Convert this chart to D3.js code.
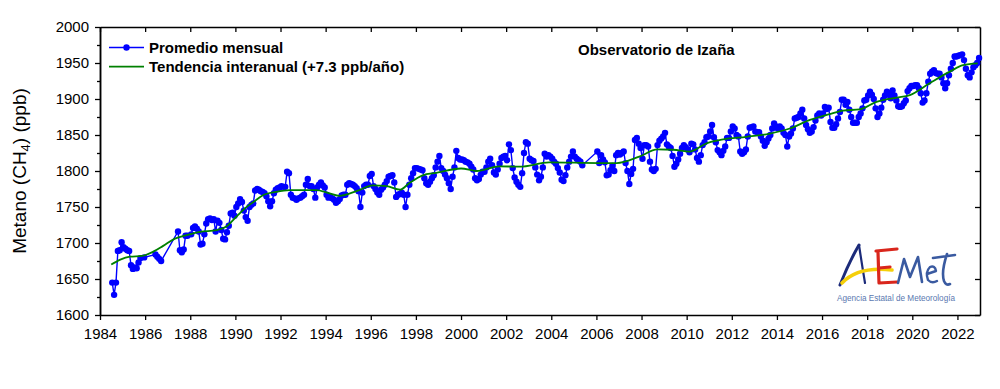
<!DOCTYPE html>
<html>
<head>
<meta charset="utf-8">
<script src="https://cdn.jsdelivr.net/npm/d3@7"></script>
<style>
    body { margin: 0; background: #fff; }
    #chart text { font-family: "Liberation Sans", Arial, sans-serif; }
</style>
</head>
<body>
<div id="chart"></div>
<script>
// monthly means (ppb), Jan..Dec, one row per year, null = no data
var startYear = 1984;
var ch4_1984_1989 = [
    null,null,null,null,null,null,1645,1628,1645,1689,1690,1701,
    1694,1692,1690,1689,1669,1664,1666,1665,1673,1679,null,1680,
    null,null,null,null,null,1684,1681,1678,1675,null,null,null,
    null,null,null,null,null,1716,1690,1687,1691,1710,1710,null,
    1712,1721,1723,1720,1716,1698,1699,1712,1727,1733,1734,1732,
    1733,1716,1731,1728,1718,1706,1705,1715,1724,1741,1742,1738
];
var ch4_1990_1999 = [
    1750,1755,1761,1757,1745,1736,1731,1750,1753,1755,1773,1775,
    1774,1772,1771,1769,1765,1758,1751,1758,1769,1774,1776,1777,
    1779,1778,1778,1799,1797,1767,1763,1762,1760,1762,1763,1765,
    1767,1781,1789,1779,1779,1775,1763,1777,1781,1784,1780,1777,
    1767,1763,1764,1762,1760,1756,1758,1761,1766,1767,1767,1781,
    1783,1782,1781,1779,1776,1772,1750,1770,1779,1781,1781,1793,
    1796,1779,1775,1770,1767,1774,1777,1781,1786,1792,1793,1794,
    1784,1764,1767,1768,1770,1767,1750,1767,1781,1790,1797,1804,
    1804,1803,1802,1801,1790,1783,1781,1785,1790,1794,1805,1813,
    1821,1804,1800,1795,1790,1783,1775,1792,1805,1828,1818,1816
];
var ch4_2000_2009 = [
    1816,1815,1813,1812,1810,1806,1802,1790,1787,1789,1795,1799,
    1799,1805,1813,1817,1808,1798,1795,1802,1810,1818,1820,1821,
    1815,1837,1829,1804,1791,1785,1781,1778,1797,1825,1840,1838,
    1817,1815,1814,1805,1795,1787,1792,1805,1824,1820,1822,1820,
    1817,1813,1810,1804,1798,1788,1786,1794,1805,1813,1820,1827,
    1820,1817,1815,1813,1808,null,null,null,null,null,null,null,
    1827,1811,1822,1816,1812,1794,1795,1801,1807,1800,1822,1825,
    1823,1825,1827,1811,1800,1782,1796,1803,1843,1846,1838,1832,
    1817,1836,1836,1834,1813,1802,1800,1803,1836,1842,1845,1848,
    1853,1837,1834,1832,1821,1806,1810,1816,1824,1832,1836,1833
];
var ch4_2010_2019 = [
    1830,1826,1838,1837,1830,1818,1813,1822,1836,1840,1847,1848,
    1855,1864,1847,1840,1829,1826,1822,1828,1834,1846,1846,1855,
    1862,1859,1850,1848,1827,1824,1826,1830,1848,1860,1861,1862,
    1855,1854,1854,1848,1842,1835,1840,1845,1850,1859,1866,1862,
    1859,1862,1859,1853,1850,1834,1848,1852,1859,1873,1874,1875,
    1880,1885,1873,1864,1858,1853,1855,1861,1870,1877,1880,1877,
    1880,1889,1886,1888,1868,1860,1860,1865,1873,1882,1899,1899,
    1892,1896,1885,1875,1867,1867,1867,1875,1880,1887,1898,1899,
    1905,1910,1906,1900,1887,1875,1880,1888,1899,1905,1910,1908,
    1901,1912,1905,1898,1890,1889,1890,1894,1898,1911,1915,1918
];
var ch4_2020_2022 = [
    1918,1919,1919,1915,1908,1895,1898,1908,1924,1935,1938,1940,
    1936,1935,1935,1930,1922,1915,1922,1933,1942,1950,1959,1959,
    1960,1961,1962,1954,1942,1933,1930,1937,1944,1947,1950,1957
];

// interannual trend (decimal year, ppb)
var trendYears = [1984.5,1984.9,1985.33,1985.85,1986.36,1986.8,1987.32,1987.84,1988.43,1989.17,
    1989.6,1990.06,1990.42,1990.8,1991.2,1991.8,1992.4,1993.6,1994.06,1994.6,1995.4,1996.1,
    1996.7,1997.3,1997.7,1998.3,1998.9,2000.0,2000.7,2001.7,2002.6,2003.9,2006.15,2006.9,
    2007.9,2008.7,2009.4,2010.14,2010.88,2011.62,2012.65,2013.69,2014.57,2015.46,2016.34,
    2016.93,2017.67,2018.41,2019.3,2019.89,2020.77,2021.66,2022.25,2022.9];
var trendValues = [1670,1677,1681,1682,1688,1696,1706,1711,1715.5,1718,
    1723,1737,1748,1757,1766,1771,1773.5,1773.5,1770,1765.5,1772.5,1780,
    1779,1774,1783,1794,1797.5,1803.5,1800,1806.5,1806,1812,1811,1811,
    1820,1830,1829.5,1827,1838.5,1844,1847.5,1852,1859,1871,1879,
    1884,1885.5,1896,1902,1905.5,1922,1938,1947,1949.5];

var yTicks = [1600,1650,1700,1750,1800,1850,1900,1950,2000];
var xTicks = d3.range(1984, 2023, 2);

var W = 1000, H = 389,
    mLeft = 100, mRight = 980, mTop = 27, mBottom = 315;

var svg = d3.select("#chart")
    .append("svg")
    .attr("width", W)
    .attr("height", H);

var x = d3.scaleLinear().domain([1984, 2023]).range([mLeft, mRight]);
var y = d3.scaleLinear().domain([1600, 2000]).range([mBottom, mTop]);

var monthly = [];
[ch4_1984_1989, ch4_1990_1999, ch4_2000_2009, ch4_2010_2019, ch4_2020_2022].forEach(function(block) {
    var base = startYear + monthly.length / 12;
    block.forEach(function(v, i) {
        monthly.push({t: base + (i + 0.5) / 12, v: v});
    });
});
var points = monthly.filter(function(d) { return d.v !== null; });
var trend = trendYears.map(function(t, i) { return {t: t, v: trendValues[i]}; });

// axes
function styleAxis(g) {
    g.selectAll(".domain").attr("stroke", "#000").attr("stroke-width", 1.5);
    g.selectAll(".tick line").attr("stroke", "#000").attr("stroke-width", 1.3);
    g.selectAll(".tick text").attr("fill", "#000").style("font-size", "15px");
}

svg.append("g")
    .attr("transform", "translate(0," + mBottom + ")")
    .call(d3.axisBottom(x).tickValues(xTicks).tickFormat(d3.format("d")).tickSizeInner(5).tickSizeOuter(0).tickPadding(8))
    .call(styleAxis);

svg.append("g")
    .attr("transform", "translate(0," + mTop + ")")
    .call(d3.axisTop(x).tickValues(xTicks).tickFormat("").tickSizeInner(-5).tickSizeOuter(0))
    .call(styleAxis);

svg.append("g")
    .attr("transform", "translate(" + mLeft + ",0)")
    .call(d3.axisLeft(y).tickValues(yTicks).tickFormat(d3.format("d")).tickSizeInner(5).tickSizeOuter(0).tickPadding(6))
    .call(styleAxis);

svg.append("g")
    .attr("transform", "translate(" + mLeft + ",0)")
    .call(d3.axisLeft(y).tickValues(d3.range(1625, 2000, 50)).tickFormat("").tickSizeInner(3).tickSizeOuter(0))
    .call(styleAxis);

svg.append("g")
    .attr("transform", "translate(" + mRight + ",0)")
    .call(d3.axisRight(y).tickValues(yTicks).tickFormat("").tickSizeInner(-5).tickSizeOuter(0))
    .call(styleAxis);

// y title
var yt = svg.append("text")
    .attr("transform", "translate(26,171) rotate(-90)")
    .attr("text-anchor", "middle")
    .style("font-size", "19px")
    .attr("fill", "#000");
yt.append("tspan").text("Metano (CH");
yt.append("tspan").text("4").style("font-size", "13px").attr("dy", 4);
yt.append("tspan").text(") (ppb)").attr("dy", -4);

// monthly series
var line = d3.line()
    .x(function(d) { return x(d.t); })
    .y(function(d) { return y(d.v); });

svg.append("path")
    .datum(points)
    .attr("d", line)
    .attr("fill", "none")
    .attr("stroke", "#0000ff")
    .attr("stroke-width", 1.4);

svg.selectAll(".dot")
    .data(points)
    .enter()
    .append("circle")
    .attr("class", "dot")
    .attr("cx", function(d) { return x(d.t); })
    .attr("cy", function(d) { return y(d.v); })
    .attr("r", 3.2)
    .attr("fill", "#0000ff");

// trend
svg.append("path")
    .datum(trend)
    .attr("d", line.curve(d3.curveMonotoneX))
    .attr("fill", "none")
    .attr("stroke", "#008000")
    .attr("stroke-width", 1.8);

// legend
svg.append("line").attr("x1", 109).attr("x2", 144).attr("y1", 47.5).attr("y2", 47.5)
    .attr("stroke", "#0000ff").attr("stroke-width", 1.4);
svg.append("circle").attr("cx", 126.5).attr("cy", 47.5).attr("r", 3.2).attr("fill", "#0000ff");
svg.append("line").attr("x1", 109).attr("x2", 144).attr("y1", 66.7).attr("y2", 66.7)
    .attr("stroke", "#008000").attr("stroke-width", 1.8);

svg.append("text").attr("x", 149).attr("y", 52.5)
    .style("font-size", "15px").style("font-weight", "bold")
    .text("Promedio mensual");
svg.append("text").attr("x", 149).attr("y", 72)
    .style("font-size", "15px").style("font-weight", "bold")
    .text("Tendencia interanual (+7.3 ppb/año)");

svg.append("text").attr("x", 578).attr("y", 54.5)
    .style("font-size", "15px").style("font-weight", "bold")
    .text("Observatorio de Izaña");

// AEMET logo (rough drawing)
var logo = svg.append("g").attr("fill", "none").attr("stroke-linecap", "round").attr("stroke-linejoin", "round");
logo.append("path").attr("d", "M840,285 Q849,262 859,245").attr("stroke", "#1c2b7a").attr("stroke-width", 3);
logo.append("path").attr("d", "M859,245 Q862,265 865,283").attr("stroke", "#1c2b7a").attr("stroke-width", 2.2);
logo.append("path").attr("d", "M842,283 Q858,266 892,270").attr("stroke", "#f5cf0a").attr("stroke-width", 3.6);
logo.append("path").attr("d", "M878,252 L879,283 M876,251 L897,249 M879,268 L890,267 M879,283 L897,282")
    .attr("stroke", "#d9261c").attr("stroke-width", 3.2);
logo.append("path").attr("d", "M898,283 L904,259 L910,277 L918,257 L922,282")
    .attr("stroke", "#3a5aa0").attr("stroke-width", 2.6);
logo.append("path").attr("d", "M927,274 L936,271 Q935,265 930,267 Q925,272 928,280 Q932,284 937,281")
    .attr("stroke", "#3a5aa0").attr("stroke-width", 2.4);
logo.append("path").attr("d", "M933,258 L955,255 M947,254 Q941,272 944,281 Q946,286 950,284")
    .attr("stroke", "#3a5aa0").attr("stroke-width", 2.6);
svg.append("text").attr("x", 837).attr("y", 301)
    .attr("textLength", 118).attr("lengthAdjust", "spacingAndGlyphs")
    .style("font-size", "9px").attr("fill", "#5a78b0")
    .text("Agencia Estatal de Meteorología");
</script>
</body>
</html>
